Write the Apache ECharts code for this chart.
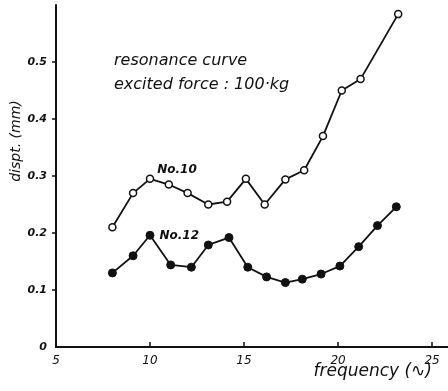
<!DOCTYPE html>
<html>
<head>
<meta charset="utf-8">
<script src="https://cdn.jsdelivr.net/npm/echarts@6/dist/echarts.min.js"></script>
<style>
  html, body { margin: 0; padding: 0; background: #fff; }
  #chart { width: 448px; height: 391px; }
</style>
</head>
<body>
<div id="chart"></div>
<script>
// Resonance curves: displacement (mm) against excitation frequency
const xTicks = [5, 10, 15, 20, 25];
const yTicks = [0, 0.1, 0.2, 0.3, 0.4, 0.5];

const no10Freq = [8, 9.1, 10, 11, 12, 13.1, 14.1, 15.1, 16.1, 17.2, 18.2, 19.2, 20.2, 21.2, 23.2];
const no10Disp = [0.21, 0.27, 0.295, 0.285, 0.27, 0.25, 0.255, 0.295, 0.25, 0.294, 0.31, 0.37, 0.45, 0.47, 0.584];

const no12Freq = [8, 9.1, 10, 11.1, 12.2, 13.1, 14.2, 15.2, 16.2, 17.2, 18.1, 19.1, 20.1, 21.1, 22.1, 23.1];
const no12Disp = [0.13, 0.16, 0.196, 0.144, 0.14, 0.179, 0.192, 0.14, 0.123, 0.113, 0.119, 0.128, 0.142, 0.176, 0.213, 0.246];

const ink = '#111';
const hand = "'DejaVu Sans', sans-serif";

function pairs(xs, ys, labelText, labelOffset) {
  return xs.map((x, i) => {
    const item = { value: [x, ys[i]] };
    if (x === 10) {
      item.label = {
        show: true, position: 'right', formatter: labelText,
        offset: labelOffset, fontStyle: 'italic', fontWeight: 'bold',
        fontSize: 12, color: ink, fontFamily: hand
      };
    }
    return item;
  });
}

const chart = echarts.init(document.getElementById('chart'));
chart.setOption({
  animation: false,
  backgroundColor: '#fff',
  grid: { left: 56, right: 0, top: 5, bottom: 44 },
  xAxis: {
    type: 'value', min: 5, max: 25.85, interval: 5,
    axisLine: { lineStyle: { color: ink, width: 2 } },
    axisTick: { inside: true, length: 5, lineStyle: { color: ink, width: 1.5 }, customValues: xTicks.slice(1) },
    axisLabel: {
      customValues: xTicks, color: ink, fontStyle: 'italic', fontSize: 12,
      fontFamily: hand, margin: 8, formatter: v => String(v)
    },
    splitLine: { show: false }
  },
  yAxis: {
    type: 'value', min: 0, max: 0.6, interval: 0.1,
    axisLine: { show: true, lineStyle: { color: ink, width: 2 } },
    axisTick: { show: true, length: 4, lineStyle: { color: ink, width: 1.5 }, customValues: yTicks.slice(1) },
    axisLabel: {
      customValues: yTicks, color: ink, fontStyle: 'italic', fontWeight: 'bold',
      fontSize: 11, fontFamily: hand, margin: 9,
      formatter: v => (v === 0 ? '0' : v.toFixed(1))
    },
    splitLine: { show: false }
  },
  series: [
    {
      name: 'No.10', type: 'line',
      data: pairs(no10Freq, no10Disp, 'No.10', [-2, -9]),
      symbol: 'circle', symbolSize: 7,
      lineStyle: { color: ink, width: 1.8 },
      itemStyle: { color: '#fff', borderColor: ink, borderWidth: 1.5 },
      z: 3
    },
    {
      name: 'No.12', type: 'line',
      data: pairs(no12Freq, no12Disp, 'No.12', [0, 1]),
      symbol: 'circle', symbolSize: 8,
      lineStyle: { color: ink, width: 1.8 },
      itemStyle: { color: ink, borderColor: ink, borderWidth: 1 },
      z: 3
    }
  ],
  graphic: [
    {
      type: 'text', left: 114, top: 53,
      style: { text: 'resonance curve', font: "italic 16px 'DejaVu Sans'", fill: ink }
    },
    {
      type: 'text', left: 114, top: 77,
      style: { text: 'excited force : 100·kg', font: "italic 16px 'DejaVu Sans'", fill: ink }
    },
    {
      type: 'text', x: 16, y: 141, rotation: Math.PI / 2,
      style: { text: 'dispt. (mm)', font: "italic 14px 'DejaVu Sans'", fill: ink, align: 'center', verticalAlign: 'middle' }
    },
    {
      type: 'text', x: 432, y: 372,
      style: { text: 'frequency (∿)', font: "italic 17px 'DejaVu Sans'", fill: ink, align: 'right', verticalAlign: 'middle' }
    }
  ]
});
</script>
</body>
</html>
